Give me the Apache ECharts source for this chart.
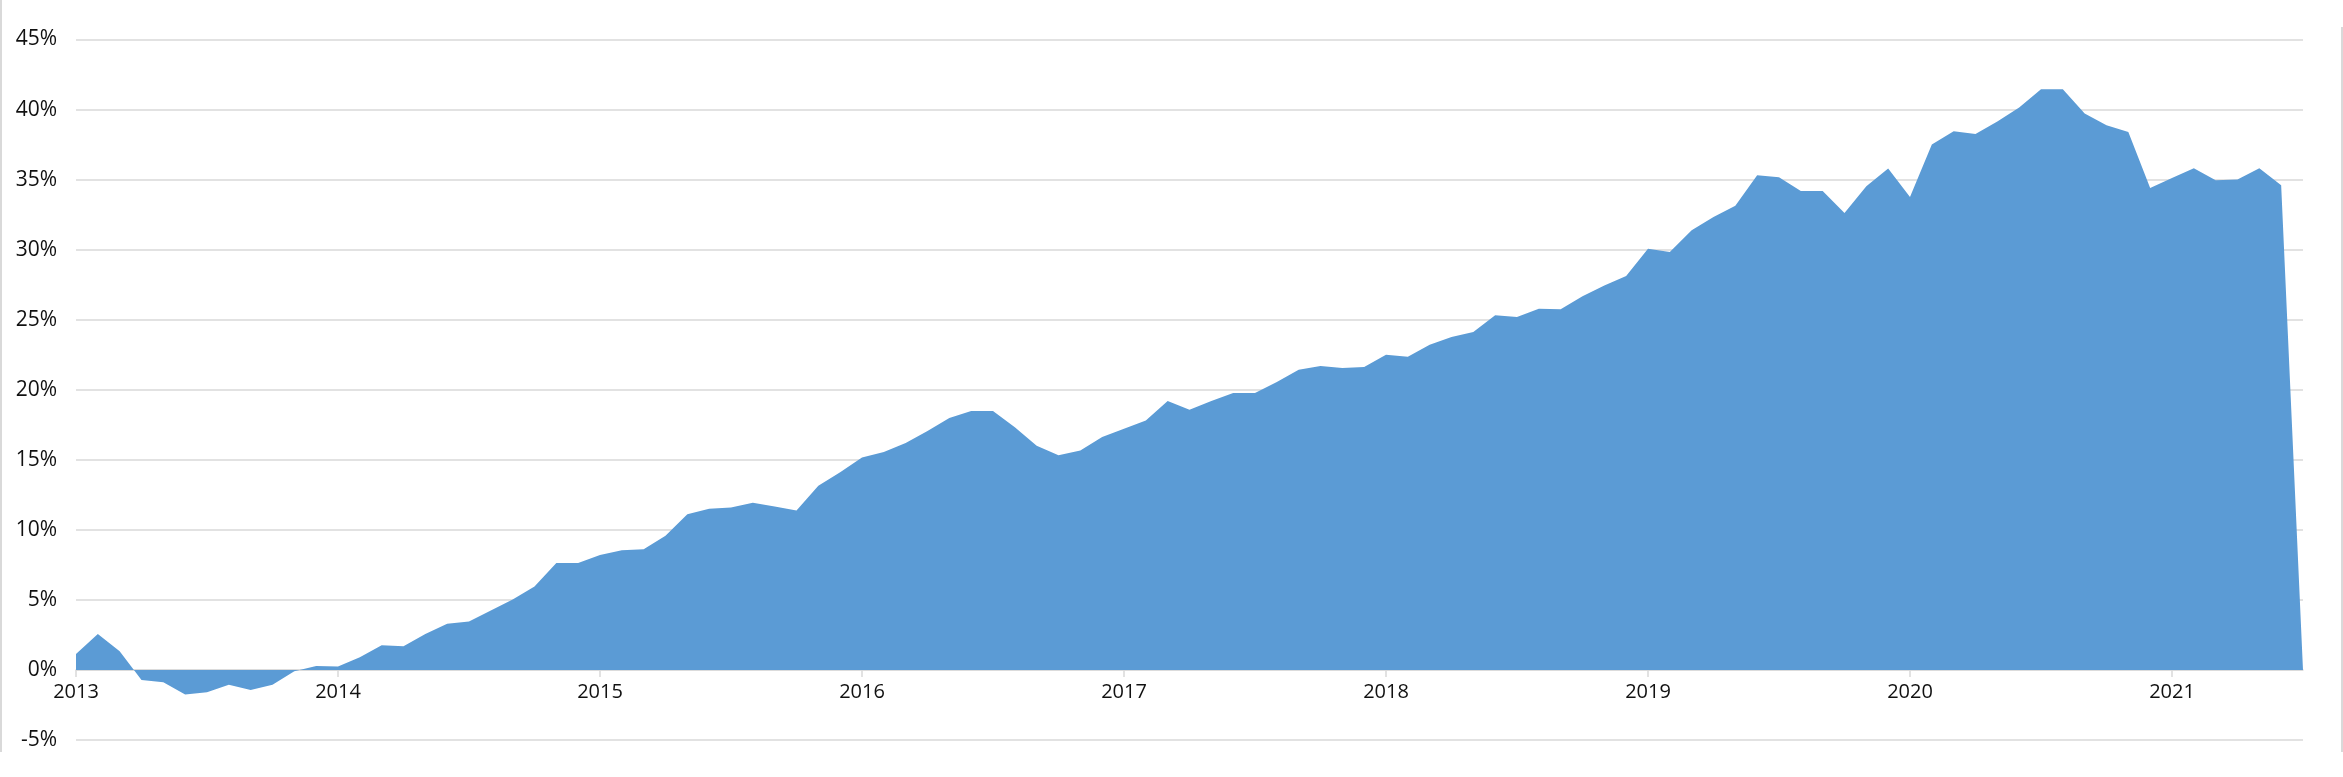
<!DOCTYPE html>
<html>
<head>
<meta charset="utf-8">
<script src="https://cdn.jsdelivr.net/npm/echarts@6/dist/echarts.min.js"></script>
<style>
html,body{margin:0;padding:0;background:#fff;}
#chart{width:2343px;height:777px;}
</style>
</head>
<body>
<div id="chart"></div>
<script>
// Years covered (monthly data, Jan 2013 – Jul 2021)
const years = [2013, 2014, 2015, 2016, 2017, 2018, 2019, 2020, 2021];
const lastYearMonths = 7;

// Monthly values (%)
const values2013 = [1.14, 2.57, 1.33, -0.71, -0.88, -1.76, -1.6, -1.05, -1.43, -1.05, -0.1, 0.29];
const values2014 = [0.24, 0.9, 1.76, 1.69, 2.57, 3.29, 3.45, 4.24, 5.02, 5.95, 7.64, 7.64];
const values2015 = [8.21, 8.55, 8.62, 9.57, 11.12, 11.5, 11.6, 11.93, 11.67, 11.38, 13.14, 14.12];
const values2016 = [15.17, 15.55, 16.2, 17.05, 17.98, 18.48, 18.48, 17.33, 16.0, 15.33, 15.67, 16.62];
const values2017 = [17.21, 17.81, 19.19, 18.57, 19.19, 19.76, 19.76, 20.55, 21.43, 21.69, 21.55, 21.62];
const values2018 = [22.5, 22.36, 23.21, 23.76, 24.12, 25.31, 25.19, 25.79, 25.74, 26.68, 27.45, 28.12];
const values2019 = [30.07, 29.83, 31.38, 32.33, 33.14, 35.31, 35.17, 34.19, 34.19, 32.62, 34.52, 35.79];
const values2020 = [33.76, 37.5, 38.45, 38.26, 39.14, 40.14, 41.45, 41.45, 39.71, 38.88, 38.4, 34.4];
const values2021 = [35.12, 35.81, 34.95, 35.0, 35.81, 34.6, 0];

// Y axis ticks
const yMin = -5, yMax = 45, yStep = 5;

const values = [].concat(values2013, values2014, values2015, values2016, values2017,
                         values2018, values2019, values2020, values2021);

const categories = [];
years.forEach((y, yi) => {
  const n = (yi === years.length - 1) ? lastYearMonths : 12;
  for (let m = 1; m <= n; m++) categories.push(y + '-' + (m < 10 ? '0' + m : m));
});

const gridTop = 39.5, gridBottom = 37, chartH = 777;
const plotH = chartH - gridTop - gridBottom;
// shift the category axis up so it sits on the 0 line
const zeroOffset = -plotH * (0 - yMin) / (yMax - yMin);

const chart = echarts.init(document.getElementById('chart'), null, {renderer: 'canvas'});
const font = '"Open Sans", "Noto Sans", sans-serif';
const isJan = (idx, val) => String(val).slice(5) === '01';

chart.setOption({
  animation: false,
  backgroundColor: '#ffffff',
  grid: {left: 76, right: 40, top: gridTop, bottom: gridBottom, containLabel: false},
  xAxis: {
    type: 'category',
    data: categories,
    boundaryGap: false,
    offset: zeroOffset,
    axisLine: {show: true, onZero: false, lineStyle: {color: '#d9d9d9', width: 1.5}},
    axisTick: {show: true, interval: isJan, length: 7, lineStyle: {color: '#d9d9d9', width: 1.5}},
    axisLabel: {
      show: true, interval: isJan, margin: 12,
      formatter: v => v.slice(0, 4),
      fontFamily: font, fontSize: 20, color: '#111'
    },
    splitLine: {show: false}
  },
  yAxis: {
    type: 'value',
    min: yMin, max: yMax, interval: yStep,
    axisLine: {show: false},
    axisTick: {show: false},
    axisLabel: {
      formatter: '{value}%', margin: 19,
      fontFamily: font, fontSize: 21, color: '#111'
    },
    splitLine: {show: true, lineStyle: {color: '#d9d9d9', width: 1.5}}
  },
  series: [{
    type: 'line',
    data: values,
    symbol: 'none',
    lineStyle: {width: 0},
    areaStyle: {color: '#5b9bd5', opacity: 1},
    silent: true
  }],
  graphic: [
    {type: 'line', shape: {x1: 1, y1: 0, x2: 1, y2: 752}, style: {stroke: '#d9d9d9', lineWidth: 2}, silent: true},
    {type: 'line', shape: {x1: 2342, y1: 27, x2: 2342, y2: 752}, style: {stroke: '#d9d9d9', lineWidth: 2}, silent: true}
  ]
});
</script>
</body>
</html>
